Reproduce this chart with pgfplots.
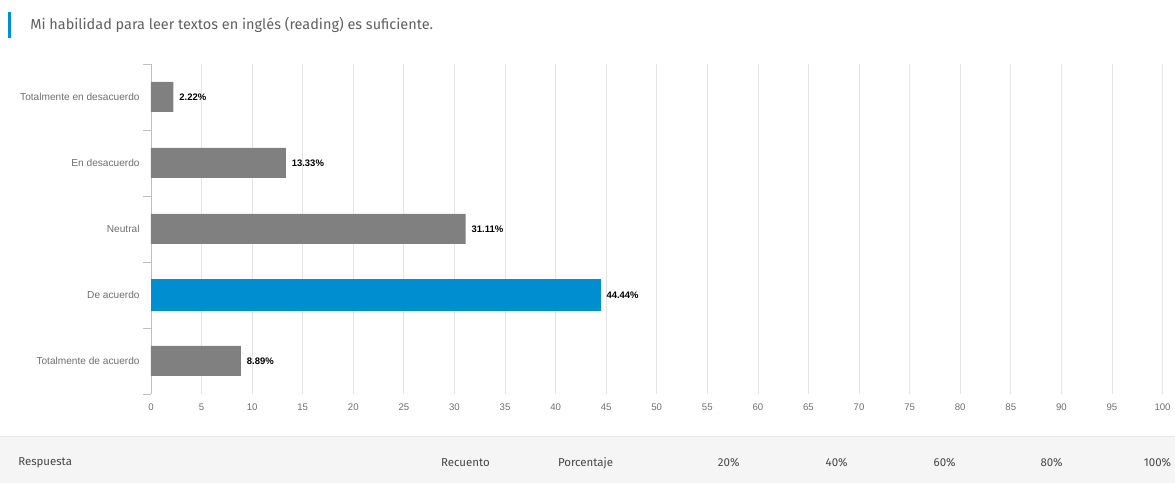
\documentclass[border=0pt]{standalone}
\usepackage{pgfplots}
\pgfplotsset{compat=1.18}
\usepackage{fontspec}
\setmainfont{Liberation Sans}
\newfontfamily\fira{Fira Sans}
\definecolor{barblue}{RGB}{0,142,208}
\definecolor{bargray}{RGB}{128,128,128}
\definecolor{txtgray}{RGB}{110,110,110}
\definecolor{titlegray}{RGB}{95,95,95}
\definecolor{hdrgray}{RGB}{70,70,70}
\definecolor{gridc}{RGB}{228,228,228}
\begin{document}
\begin{tikzpicture}
\begin{scope}[x=0.75pt,y=-0.75pt]
\path[use as bounding box] (0,0) rectangle (1175,483);
\fill[black!4] (0,436) rectangle (1175,483);
\draw[black!10] (0,436) -- (1175,436);
\fill[barblue] (8,12) rectangle (11,38);
\node[anchor=west, font=\fira\fontsize{10.85}{12}\selectfont, text=titlegray, inner sep=0] at (30,25) {Mi habilidad para leer textos en inglés (reading) es suficiente.};
\begin{scope}[every node/.style={font=\fira\fontsize{8.6}{10}\selectfont, text=hdrgray, inner sep=0}]
\node[anchor=west] at (18,463) {Respuesta};
\node[anchor=west] at (441,463) {Recuento};
\node[anchor=west] at (558,463) {Porcentaje};
\node at (729,463) {20\%};
\node at (837,463) {40\%};
\node at (945,463) {60\%};
\node at (1052,463) {80\%};
\node at (1158,463) {100\%};
\end{scope}
\end{scope}
\begin{axis}[
  at={(113.25pt,-295.5pt)}, anchor=south west,
  scale only axis, width=759pt, height=247.5pt,
  xmin=0, xmax=100, ymin=-0.5, ymax=4.5, y dir=reverse,
  xtick={0,5,...,100},
  ytick={0,...,4},
  yticklabels={Totalmente en desacuerdo, En desacuerdo, Neutral, De acuerdo, Totalmente de acuerdo},
  minor ytick={-0.5,0.5,...,4.5},
  major tick length=0pt, minor tick length=6pt, tick align=outside,
  minor tick style={draw=black!25},
  axis lines*=left,
  x axis line style={draw=none},
  y axis line style={draw=black!25},
  xmajorgrids, grid style={gridc, line width=0.6pt},
  xticklabel style={font=\fontsize{7.2}{8}\selectfont, text=txtgray, yshift=-4pt},
  yticklabel style={font=\fontsize{7.6}{8}\selectfont, text=txtgray, xshift=-5pt},
  /pgf/number format/assume math mode=true,
  point meta=x,
  nodes near coords={\pgfmathprintnumber[fixed,fixed zerofill,precision=2]{\pgfplotspointmeta}\%},
  nodes near coords style={font=\bfseries\fontsize{7.1}{8}\selectfont, text=black, anchor=west, xshift=1pt},
  clip=false,
]
\addplot[xbar, bar shift=0pt, bar width=22.5pt, fill=bargray, draw=none] coordinates {(2.22,0) (13.33,1) (31.11,2) (8.89,4)};
\addplot[xbar, bar shift=0pt, bar width=23.5pt, fill=barblue, draw=none] coordinates {(44.44,3)};
\end{axis}
\end{tikzpicture}
\end{document}
